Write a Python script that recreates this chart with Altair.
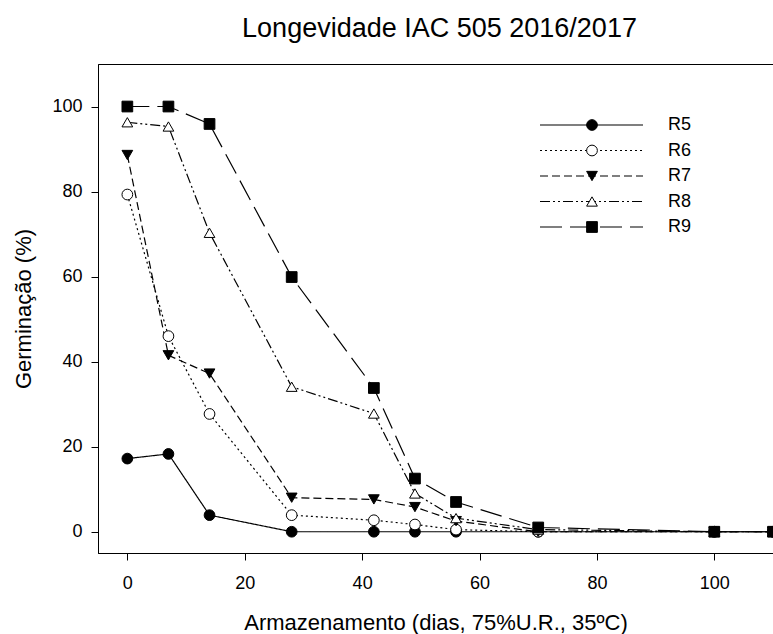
import altair as alt
import pandas as pd

# ---- data ----
days = [0, 7, 14, 28, 42, 49, 56, 70, 100, 110]
series = ["R5", "R6", "R7", "R8", "R9"]
r5 = [17.2, 18.3, 3.9, 0, 0, 0, 0, 0, 0, 0]
r6 = [79.3, 46.0, 27.7, 3.9, 2.7, 1.7, 0.5, 0, 0, 0]
r7 = [88.6, 41.5, 37.2, 8.0, 7.6, 5.8, 2.5, 0, 0, 0]
r8 = [96.3, 95.3, 70.3, 34.1, 27.8, 9.0, 3.2, 0.5, 0, 0]
r9 = [100, 100, 95.9, 59.9, 33.8, 12.5, 7.0, 1.0, 0, 0]
x_ticks = [0, 20, 40, 60, 80, 100]
y_ticks = [0, 20, 40, 60, 80, 100]

values = {"R5": r5, "R6": r6, "R7": r7, "R8": r8, "R9": r9}
rows = []
for s in series:
    for d, v in zip(days, values[s]):
        rows.append({"dias": d, "germ": v, "series": s})
df = pd.DataFrame(rows)
leg_df = pd.DataFrame({"series": series})

FONT = "Liberation Sans"

dash_scale = alt.Scale(domain=series,
                       range=[[1, 0], [2, 3], [8, 4], [10, 3, 2, 3, 2, 3], [22, 8]])
shape_scale = alt.Scale(domain=series,
                        range=["circle", "circle", "triangle-down", "triangle-up", "square"])
fill_scale = alt.Scale(domain=series,
                       range=["black", "white", "black", "white", "black"])

x_enc = alt.X("dias:Q",
              scale=alt.Scale(domain=[-5, 110], nice=False, zero=False),
              axis=alt.Axis(values=x_ticks, title="Armazenamento (dias, 75%U.R., 35ºC)",
                            grid=False, tickSize=7, labelPadding=14,
                            titlePadding=20))
y_scale = alt.Scale(domain=[-5, 110], nice=False, zero=False)

lines = alt.Chart(df).mark_line(color="black", strokeWidth=1.2).encode(
    x=x_enc,
    y=alt.Y("germ:Q", scale=y_scale,
            axis=alt.Axis(values=y_ticks, title="Germinação (%)", grid=False,
                          tickSize=7, labelPadding=9, titlePadding=16)),
    strokeDash=alt.StrokeDash("series:N", scale=dash_scale, legend=None),
    detail="series:N",
)

points = alt.Chart(df).mark_point(filled=True, stroke="black", strokeWidth=1,
                                  size=115, opacity=1).encode(
    x=x_enc,
    y=alt.Y("germ:Q", scale=y_scale, axis=None),
    shape=alt.Shape("series:N", scale=shape_scale, legend=None),
    fill=alt.Fill("series:N", scale=fill_scale, legend=None),
)

leg_y = alt.Y("series:N", scale=alt.Scale(type="point", domain=series,
                                          range=[61, 163], padding=0), axis=None)

leg_lines = alt.Chart(leg_df).mark_rule(color="black", strokeWidth=1.2).encode(
    x=alt.value(442), x2=alt.value(545), y=leg_y,
    strokeDash=alt.StrokeDash("series:N", scale=dash_scale, legend=None),
)
leg_points = alt.Chart(leg_df).mark_point(filled=True, stroke="black", strokeWidth=1,
                                          size=115, opacity=1).encode(
    x=alt.value(494), y=leg_y,
    shape=alt.Shape("series:N", scale=shape_scale, legend=None),
    fill=alt.Fill("series:N", scale=fill_scale, legend=None),
)
leg_text = alt.Chart(leg_df).mark_text(align="left", baseline="middle", font=FONT,
                                       fontSize=18, color="black").encode(
    x=alt.value(570), y=leg_y, text="series:N",
)

chart = alt.layer(lines, points, leg_lines, leg_points, leg_text).resolve_scale(
    y="independent"
).properties(
    width=675, height=489,
    padding={"left": 98, "top": 64, "right": 0, "bottom": 81},
    autosize="none",
    title=alt.TitleParams("Longevidade IAC 505 2016/2017", font=FONT, fontSize=27,
                          fontWeight="normal", color="black", offset=21, dx=4),
).configure_view(stroke="black", strokeWidth=1).configure_axis(
    labelFont=FONT, titleFont=FONT, labelFontSize=18, titleFontSize=22,
    titleFontWeight="normal", labelColor="black", titleColor="black",
    tickColor="black", domainColor="black",
)

chart.save("out.html", embed_options={"renderer": "svg", "actions": False})
